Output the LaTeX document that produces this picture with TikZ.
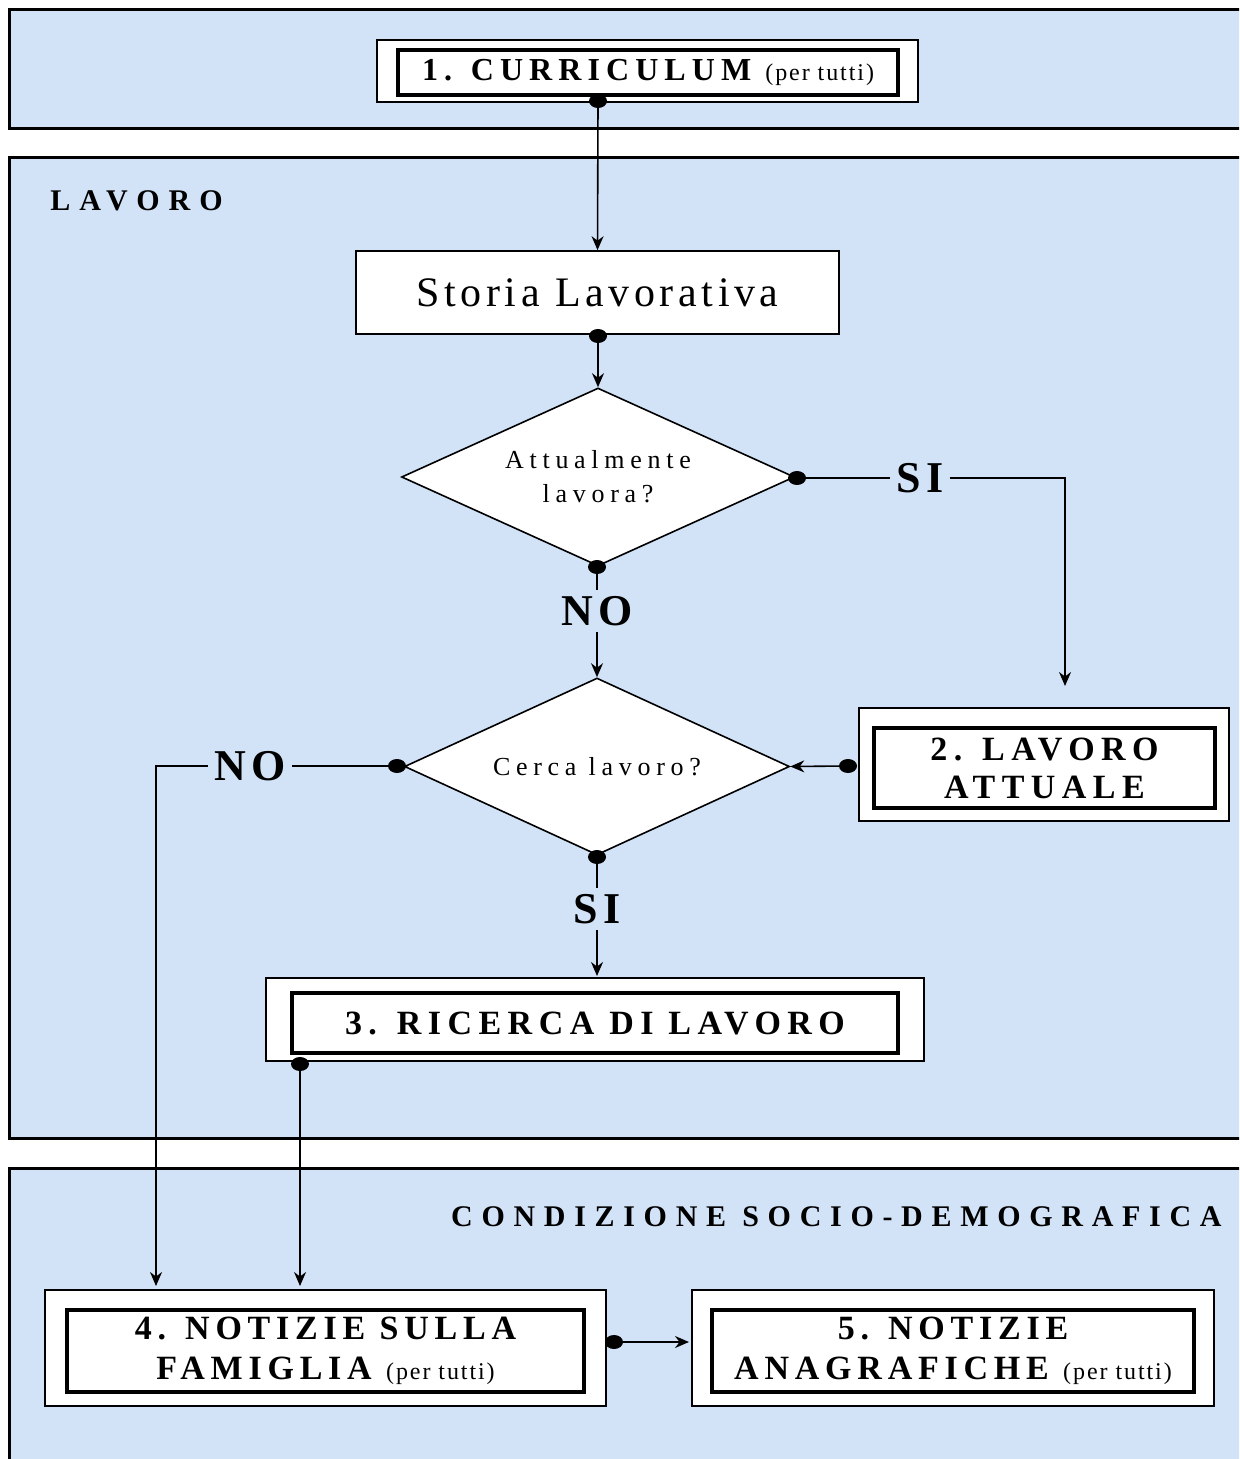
\documentclass[tikz,border=0pt]{standalone}
\usepackage{fontspec}
\setmainfont{Liberation Serif}
\usetikzlibrary{shapes.geometric,arrows.meta}
\definecolor{paleblue}{RGB}{210,227,248}
\tikzset{>={Stealth[length=7pt,width=6pt]}}
\tikzset{
  panel/.style={draw,line width=1.5pt,fill=paleblue},
  outerbox/.style={draw,line width=1.2pt,fill=white,inner sep=0pt},
  innerbox/.style={draw,line width=1.6pt,fill=white,inner sep=0pt,align=center,
    font=\fontsize{17}{19}\selectfont\bfseries\addfontfeature{LetterSpace=19}},
  question/.style={diamond,draw,line width=0.8pt,fill=white,inner sep=0pt},
  questiontext/.style={align=center,inner sep=0pt,
    font=\fontsize{13}{17}\selectfont\addfontfeature{LetterSpace=22}},
  dot/.style={inner sep=0pt,minimum size=0pt},
  answer/.style={inner sep=3pt,font=\fontsize{22}{24}\selectfont\bfseries\addfontfeature{LetterSpace=12}},
  sectiontitle/.style={inner sep=0pt,font=\fontsize{15}{17}\selectfont\bfseries\addfontfeature{LetterSpace=30}},
  link/.style={line width=0.8pt}
}
\newcommand{\pertutti}{{\fontsize{12}{13}\selectfont\mdseries\addfontfeature{LetterSpace=8}(per tutti)}}

\begin{document}
\begin{tikzpicture}[x=0.5pt,y=-0.5pt]
    \useasboundingbox (0,0) rectangle (1239,1459);
    \clip (0,0) rectangle (1239,1459);
    % panels
    \draw[panel] (9,10) rectangle (1260,129);
    \draw[panel] (9,158) rectangle (1260,1138);
    \draw[panel] (9,1168) rectangle (1260,1480);
    \node[sectiontitle,anchor=west](lavoro) at (50,201) {LAVORO};
    \node[sectiontitle,anchor=east,font=\fontsize{15}{17}\selectfont\bfseries\addfontfeature{LetterSpace=29}]
        (condizione) at (1222,1217) {CONDIZIONE SOCIO-DEMOGRAFICA};
    % boxes
    \node[outerbox,minimum width=270.5pt,minimum height=31pt](curr) at (647.5,71) {};
    \node[innerbox,minimum width=250pt,minimum height=22.5pt,font=\fontsize{16}{18}\selectfont\bfseries\addfontfeature{LetterSpace=19}]
        (currin) at (648,72.5) {1. CURRICULUM \pertutti};
    \node[draw,line width=0.8pt,fill=white,minimum width=241.5pt,minimum height=41.5pt,
        font=\fontsize{21}{24}\selectfont\addfontfeature{LetterSpace=11}](storia) at (597.5,292.5) {Storia Lavorativa};
    \node[question,minimum width=196.5pt,minimum height=89pt,
        label={[questiontext]center:Attualmente\\lavora?}](attual) at (598,477) {};
    \node[question,minimum width=192.5pt,minimum height=88.5pt,
        label={[questiontext]center:Cerca lavoro?}](cerca) at (597,766.5) {};
    \node[outerbox,minimum width=185pt,minimum height=56.5pt](lavatt) at (1044,764.5) {};
    \node[innerbox,minimum width=170.5pt,minimum height=40pt](lavattin) at (1044.5,768) {2. LAVORO\\ATTUALE};
    \node[outerbox,minimum width=329pt,minimum height=41.5pt](ricerca) at (595,1019.5) {};
    \node[innerbox,minimum width=303pt,minimum height=30pt](ricercain) at (595,1023) {3. RICERCA DI LAVORO};
    \node[outerbox,minimum width=280.5pt,minimum height=58pt](famiglia) at (325.5,1348) {};
    \node[innerbox,minimum width=258.5pt,minimum height=41pt,font=\fontsize{17}{20}\selectfont\bfseries\addfontfeature{LetterSpace=17}]
        (famigliain) at (325.5,1351) {4. NOTIZIE SULLA\\FAMIGLIA \pertutti};
    \node[outerbox,minimum width=261pt,minimum height=58pt](anagr) at (953,1348) {};
    \node[innerbox,minimum width=241pt,minimum height=41pt,font=\fontsize{17}{20}\selectfont\bfseries\addfontfeature{LetterSpace=17}]
        (anagrin) at (953,1351) {5. NOTIZIE\\ANAGRAFICHE \pertutti};
    % answers
    \node[answer](si1) at (920,478) {SI};
    \node[answer](no1) at (597,611) {NO};
    \node[answer](no2) at (250,766) {NO};
    \node[answer](si2) at (597,909) {SI};
    % dots
    \node[dot](d1) at (598,101) {};
    \node[dot](d2) at (598,336) {};
    \node[dot](d3) at (797,478) {};
    \node[dot](d4) at (597,567) {};
    \node[dot](d5) at (848,766) {};
    \node[dot](d6) at (397,766) {};
    \node[dot](d7) at (597,857) {};
    \node[dot](d8) at (300,1064) {};
    \node[dot](d9) at (614,1342) {};
    \coordinate (c1) at (1065,478);
    \coordinate (e1) at (1065,686);
    \coordinate (c2) at (156,766);
    \coordinate (e2) at (156,1286);
    \coordinate (e3) at (300,1286);
    \coordinate (e4) at (689,1342);
    \coordinate (e5) at (597,976);
    % connectors
    \draw[link,->] (d1.center) -- (storia.north);
    \draw[link,->] (d2.center) -- (attual.north);
    \draw[link] (d3.center) -- (si1.west);
    \draw[link,->] (si1.east) -- (c1) -- (e1);
    \draw[link] (d4.center) -- (no1.north);
    \draw[link,->] (no1.south) -- (cerca.north);
    \draw[link,->] (d5.center) -- (cerca.east);
    \draw[link] (d6.center) -- (no2.east);
    \draw[link,->] (no2.west) -- (c2) -- (e2);
    \draw[link] (d7.center) -- (si2.north);
    \draw[link,->] (si2.south) -- (e5);
    \draw[link,->] (d8.center) -- (e3);
    \draw[link,->] (d9.center) -- (e4);
    % dots on top
    \foreach \d in {d1,d2,d3,d4,d5,d6,d7,d8,d9}
        \fill (\d) ellipse (4.5pt and 3.5pt);
\end{tikzpicture}
\end{document}
